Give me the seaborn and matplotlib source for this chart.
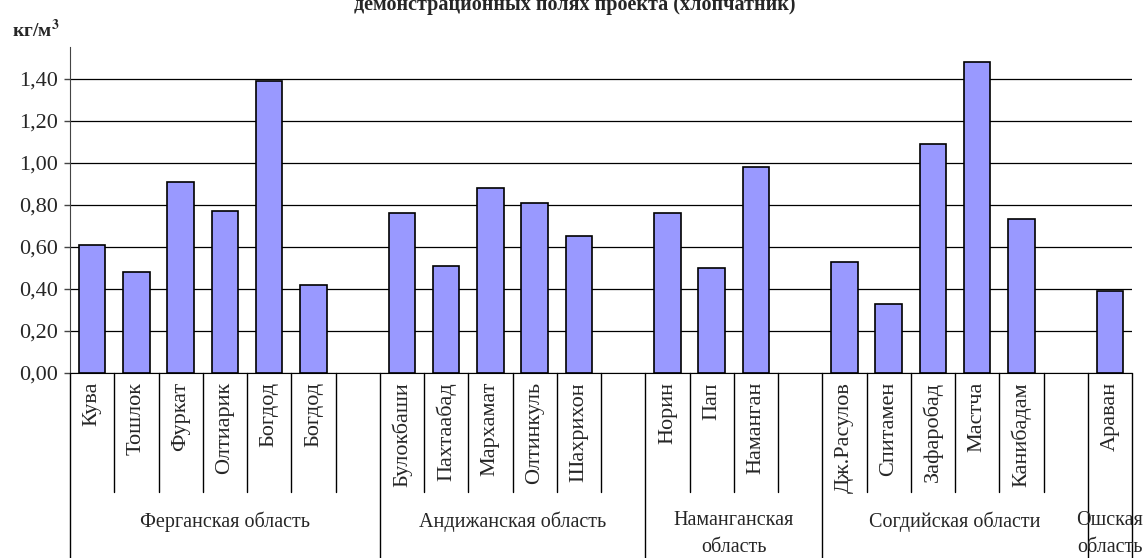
import numpy as np
import pandas as pd
import seaborn as sns
import matplotlib.pyplot as plt
from matplotlib.transforms import blended_transform_factory

# data
groups = ["Ферганская область", "Андижанская область", "Наманганская\nобласть",
          "Согдийская области", "Ошская\nобласть"]
fergana_sites = ["Кува", "Тошлок", "Фуркат", "Олтиарик", "Богдод", "Богдод"]
fergana_vals = [0.61, 0.48, 0.91, 0.77, 1.39, 0.42]
andijan_sites = ["Булокбаши", "Пахтаабад", "Мархамат", "Олтинкуль", "Шахрихон"]
andijan_vals = [0.76, 0.51, 0.88, 0.81, 0.65]
namangan_sites = ["Норин", "Пап", "Наманган"]
namangan_vals = [0.76, 0.50, 0.98]
sogd_sites = ["Дж.Расулов", "Спитамен", "Зафаробад", "Мастча", "Канибадам"]
sogd_vals = [0.53, 0.33, 1.09, 1.48, 0.73]
osh_sites = ["Араван"]
osh_vals = [0.39]

yticks = [0.0, 0.2, 0.4, 0.6, 0.8, 1.0, 1.2, 1.4]
ytick_labels = ["0,00", "0,20", "0,40", "0,60", "0,80", "1,00", "1,20", "1,40"]
title = "демонстрационных полях проекта (хлопчатник)"
unit = "кг/м$^\\mathbf{3}$"

all_sites = [fergana_sites, andijan_sites, namangan_sites, sogd_sites, osh_sites]
all_vals = [fergana_vals, andijan_vals, namangan_vals, sogd_vals, osh_vals]

# build slots: each group followed by one empty slot (except the last)
slot_keys, slot_labels, rows = [], [], []
group_bounds = []
for gi, (sites, vals) in enumerate(zip(all_sites, all_vals)):
    start = len(slot_keys)
    for s, v in zip(sites, vals):
        key = f"s{len(slot_keys)}"
        slot_keys.append(key)
        slot_labels.append(s)
        rows.append({"slot": key, "value": v})
    if gi < len(groups) - 1:
        slot_keys.append(f"s{len(slot_keys)}")
        slot_labels.append("")
    group_bounds.append((start, len(slot_keys)))
df = pd.DataFrame(rows)

sns.set_style("white")
plt.rcParams['font.family'] = ['Liberation Serif', 'DejaVu Serif']
plt.rcParams['mathtext.fontset'] = 'stix'

fig = plt.figure(figsize=(11.47, 5.58), dpi=100)
W, H = 1147, 558
ax = fig.add_axes([70 / W, 1 - 373 / H, (1132 - 70) / W, (373 - 47) / H])

sns.barplot(data=df, x="slot", y="value", order=slot_keys, color="#9999FF",
            saturation=1, width=0.6, edgecolor="black", linewidth=1.2, ax=ax, zorder=3)

n = len(slot_keys)
ax.set_xlim(-0.5, n - 0.5)
ax.set_ylim(0, 1.55)
ax.set_yticks(yticks)
ax.set_yticklabels(ytick_labels, fontsize=16)
ax.yaxis.grid(True, color="black", linewidth=0.9, zorder=0)
ax.xaxis.grid(False)
ax.set_xticks([])
ax.set_xlabel("")
ax.set_ylabel("")
for side in ["top", "right"]:
    ax.spines[side].set_visible(False)
ax.spines["left"].set_color("#444444")
ax.spines["bottom"].set_color("black")
ax.tick_params(axis="y", direction="out", left=True, length=4, width=1, color="#444444", pad=5)

trans = blended_transform_factory(ax.transData, ax.transAxes)
ax_h = 373 - 47
short_end = -(492 - 373) / ax_h
long_end = -(560 - 373) / ax_h

# category labels
for i, lab in enumerate(slot_labels):
    if lab:
        ax.text(i, -9 / ax_h, lab, rotation=90, ha="center", va="top",
                fontsize=16, transform=trans, clip_on=False)

# separators
starts = {b[0] for b in group_bounds} | {n}
for i in range(n + 1):
    end = long_end if i in starts else short_end
    ax.plot([i - 0.5, i - 0.5], [0, end], color="black", linewidth=1,
            transform=trans, clip_on=False)

# group labels
for g, (a, b) in zip(groups, group_bounds):
    ax.text((a + b - 1) / 2, -(511 - 373) / ax_h, g, ha="center", va="top",
            fontsize=14.5, linespacing=1.55, transform=trans, clip_on=False)

fig.text(0.501, 1 - 10 / H, title, ha="center", va="baseline",
         fontsize=14.5, fontweight="bold")
fig.text(12 / W, 1 - 37 / H, unit, ha="left", va="baseline",
         fontsize=14, fontweight="bold")

fig.savefig("out.png", dpi=100)
